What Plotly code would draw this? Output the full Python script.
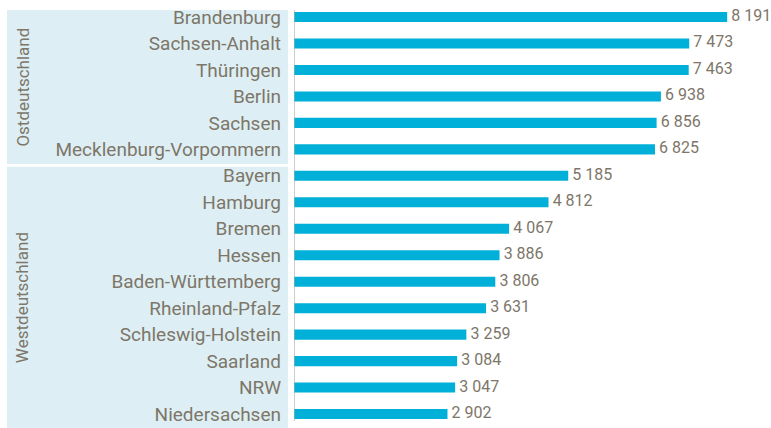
import plotly.graph_objects as go

states = ["Brandenburg", "Sachsen-Anhalt", "Thüringen", "Berlin", "Sachsen",
          "Mecklenburg-Vorpommern", "Bayern", "Hamburg", "Bremen", "Hessen",
          "Baden-Württemberg", "Rheinland-Pfalz", "Schleswig-Holstein",
          "Saarland", "NRW", "Niedersachsen"]
values = [8191, 7473, 7463, 6938, 6856, 6825, 5185, 4812, 4067, 3886,
          3806, 3631, 3259, 3084, 3047, 2902]
groups = ["Ostdeutschland", "Westdeutschland"]
group_sizes = [6, 10]

def fmt(v):
    return f"{v:,}".replace(",", " ")

TEXT = "#7d7669"
FONT = "Roboto"

fig = go.Figure()
fig.add_trace(go.Bar(
    x=values, y=states, orientation="h",
    marker=dict(color="#00b0d8", line=dict(width=0)),
    width=0.38,
))
fig.add_trace(go.Scatter(
    x=values, y=states, mode="markers+text",
    marker=dict(size=5, opacity=0),
    text=[fmt(v) for v in values], textposition="middle right",
    textfont=dict(color=TEXT, size=16, family=FONT),
    cliponaxis=False,
))

shapes = []
annotations = []
bounds = [(-0.265, 5.55), (5.66, 15.6)]
for g, n, (y0, y1) in zip(groups, group_sizes, bounds):
    shapes.append(dict(type="rect", xref="paper", yref="y", x0=-0.603, x1=-0.0126,
                       y0=y0, y1=y1, fillcolor="#ddeff4", line=dict(width=0), layer="below"))
    annotations.append(dict(xref="paper", yref="y", x=-0.57, y=(y0 + min(y1, 15.53)) / 2,
                            xanchor="center", yanchor="middle",
                            text=g, textangle=-90, showarrow=False,
                            font=dict(color=TEXT, size=17, family=FONT)))
shapes.append(dict(type="line", xref="x", yref="y", x0=0, x1=0, y0=-0.265, y1=15.26,
                   line=dict(color="#aaaaaa", width=1.2)))

fig.update_layout(
    width=771, height=428,
    margin=dict(l=294, r=1, t=0, b=0),
    plot_bgcolor="white", paper_bgcolor="white",
    showlegend=False, hovermode=False,
    shapes=shapes, annotations=annotations,
    xaxis=dict(range=[0, 9000], visible=False, showgrid=False, zeroline=False),
    yaxis=dict(type="category", range=[15.527, -0.642], showgrid=False, zeroline=False,
               showline=False, ticks="", ticklabelstandoff=12,
               tickfont=dict(color=TEXT, size=19, family=FONT)),
)

fig.write_html("out.html", config={"displayModeBar": False},
               post_script="document.body.style.margin='0';document.body.style.overflow='hidden';")
